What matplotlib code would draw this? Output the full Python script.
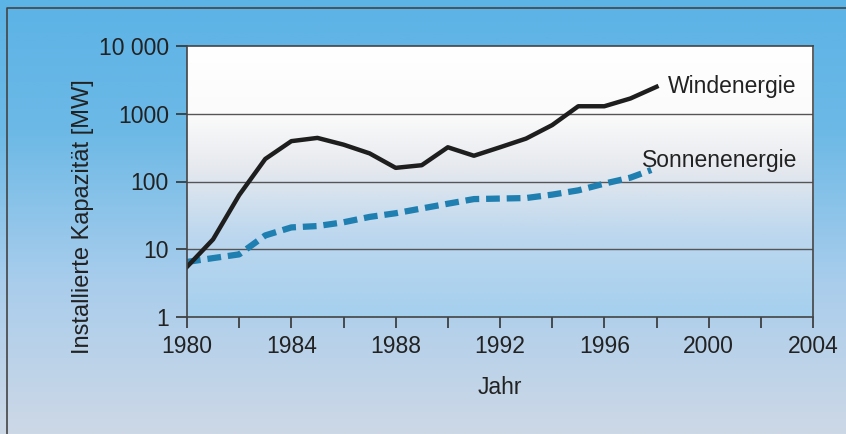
import numpy as np
import matplotlib.pyplot as plt
from matplotlib.colors import LinearSegmentedColormap
from matplotlib.ticker import FixedLocator, FixedFormatter

plt.rcParams['font.family'] = ['Liberation Sans', 'DejaVu Sans']

years_wind = [1980, 1981, 1982, 1983, 1984, 1985, 1986, 1987, 1988, 1989,
              1990, 1991, 1992, 1993, 1994, 1995, 1996, 1997, 1998]
wind = [5.5, 14, 63, 215, 394, 440, 350, 260, 159, 174,
        320, 240, 320, 430, 680, 1290, 1290, 1680, 2500]

years_solar = [1980, 1981, 1982, 1983, 1984, 1985, 1986, 1987, 1988, 1989,
               1990, 1991, 1992, 1993, 1994, 1995, 1996, 1997, 1997.8]
solar = [6.5, 7.4, 8.4, 16, 21, 22, 25, 30, 34, 40,
         47, 55, 56, 57, 64, 74, 93, 114, 148]

yticks = [1, 10, 100, 1000, 10000]
ytick_labels = ['1', '10', '100', '1000', '10 000']
xticks_major = [1980, 1984, 1988, 1992, 1996, 2000, 2004]
xticks_minor = [1982, 1986, 1990, 1994, 1998, 2002]

fig = plt.figure(figsize=(8.46, 4.34), dpi=100)

# background gradient for the whole figure
bg = fig.add_axes([0, 0, 1, 1], zorder=-5)
bg_cmap = LinearSegmentedColormap.from_list(
    'bg', [(0.0, '#cdd8e6'), (0.35, '#a9cdec'), (0.7, '#6cb9e6'), (1.0, '#5cb3e6')])
grad = np.linspace(0, 1, 256).reshape(-1, 1)
bg.imshow(grad, aspect='auto', cmap=bg_cmap, origin='lower', extent=[0, 1, 0, 1])
bg.plot([0.008, 0.008, 1.0], [0.0, 0.982, 0.982], color='#444444', lw=1.2)
bg.set_xlim(0, 1)
bg.set_ylim(0, 1)
bg.axis('off')

ax = fig.add_axes([187 / 846, 1 - 317 / 434, 626 / 846, 271 / 434])
ax.set_facecolor('none')
plot_cmap = LinearSegmentedColormap.from_list(
    'plot', [(0.0, '#a5d0ef'), (0.3, '#bcd7ee'), (0.55, '#e6e9ee'), (0.75, '#fbfbfb'), (1.0, '#ffffff')])
ax.imshow(grad, aspect='auto', cmap=plot_cmap, origin='lower',
          extent=[0, 1, 0, 1], transform=ax.transAxes, zorder=0)

ax.set_yscale('log')
ax.set_xlim(1980, 2004)
ax.set_ylim(1, 10000)

for v in [10, 100, 1000]:
    ax.axhline(v, color='#555555', lw=1.0, zorder=1)

ax.plot(years_solar, solar, color='#1f7fb0', lw=4.5, dashes=(2.2, 1.1), zorder=3,
        solid_capstyle='butt')
ax.plot(years_wind, wind, color='#1e1e1e', lw=3.2, zorder=4, solid_joinstyle='round')

ax.text(1998.44, 2550, 'Windenergie', fontsize=16.5, color='#222222', va='center', ha='left')
ax.text(1997.45, 205, 'Sonnenenergie', fontsize=16.5, color='#222222', va='center', ha='left')

ax.yaxis.set_major_locator(FixedLocator(yticks))
ax.yaxis.set_major_formatter(FixedFormatter(ytick_labels))
ax.yaxis.set_minor_locator(FixedLocator([]))
ax.set_xticks(xticks_major)
ax.set_xticks(xticks_minor, minor=True)
ax.set_xticklabels([str(x) for x in xticks_major])

ax.tick_params(axis='both', which='both', direction='out', length=8, width=1.2,
               color='#333333', labelsize=16.5, labelcolor='#222222', pad=5)
for s in ax.spines.values():
    s.set_color('#444444')
    s.set_linewidth(1.2)
    s.set_zorder(5)

ax.set_ylabel('Installierte Kapazität [MW]', fontsize=17, color='#222222')
ax.yaxis.set_label_coords(-0.149, 0.371)
ax.set_xlabel('Jahr', fontsize=16.5, color='#222222', labelpad=13)

fig.savefig('out.png', dpi=100)
